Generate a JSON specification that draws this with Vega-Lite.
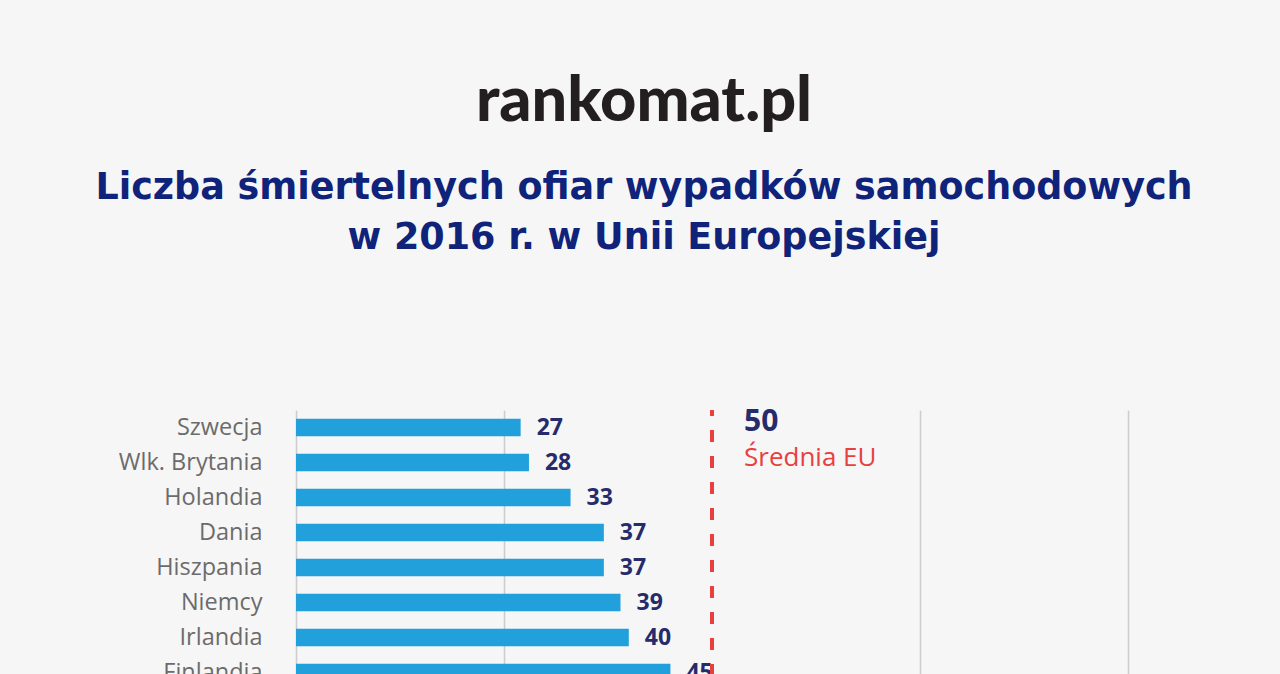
{
  "$schema": "https://vega.github.io/schema/vega-lite/v6.json",
  "autosize": {"type": "none"},
  "width": 832,
  "height": 280,
  "padding": {"left": 296, "top": 410, "right": 152, "bottom": 0},
  "background": "#f6f6f6",
  "config": {"view": {"stroke": null}},
  "title": {
    "text": "rankomat.pl",
    "subtitle": ["Liczba śmiertelnych ofiar wypadków samochodowych", "w 2016 r. w Unii Europejskiej"],
    "anchor": "middle",
    "frame": "group",
    "dx": -68,
    "offset": 150,
    "font": "Lato",
    "fontSize": 63,
    "fontWeight": 900,
    "color": "#231f20",
    "subtitleFont": "DejaVu Sans",
    "subtitleFontSize": 36.5,
    "subtitleFontWeight": "bold",
    "subtitleColor": "#0f237a",
    "subtitleLineHeight": 50,
    "subtitlePadding": 36
  },
  "datasets": {
    "kraje": [
      {"kraj": "Szwecja", "wartosc": 27},
      {"kraj": "Wlk. Brytania", "wartosc": 28},
      {"kraj": "Holandia", "wartosc": 33},
      {"kraj": "Dania", "wartosc": 37},
      {"kraj": "Hiszpania", "wartosc": 37},
      {"kraj": "Niemcy", "wartosc": 39},
      {"kraj": "Irlandia", "wartosc": 40},
      {"kraj": "Finlandia", "wartosc": 45}
    ],
    "srednia": [
      {"kraj": "Szwecja", "opis": "50", "wartosc": 50}
    ],
    "srednia_opis": [
      {"kraj": "Wlk. Brytania", "opis": "Średnia EU", "wartosc": 50}
    ]
  },
  "layer": [
    {
      "data": {"name": "kraje"},
      "mark": {"type": "bar", "color": "#21a0db"},
      "encoding": {
        "y": {
          "field": "kraj",
          "type": "nominal",
          "sort": null,
          "title": null,
          "scale": {"paddingInner": 0.5, "paddingOuter": 0.25},
          "axis": {
            "domain": false,
            "ticks": false,
            "labelPadding": 34,
            "labelFont": "Open Sans",
            "labelFontSize": 23.5,
            "labelColor": "#6b6b6b"
          }
        },
        "x": {
          "field": "wartosc",
          "type": "quantitative",
          "scale": {"domain": [0, 100], "nice": false},
          "title": null,
          "axis": {
            "orient": "top",
            "values": [0, 25, 75, 100],
            "labels": false,
            "ticks": false,
            "domain": false,
            "grid": true,
            "gridColor": "#cccccc",
            "gridWidth": 1.5
          }
        }
      }
    },
    {
      "data": {"name": "kraje"},
      "mark": {"type": "text", "align": "left", "baseline": "middle", "dx": 16, "font": "Open Sans", "fontSize": 23, "fontWeight": "bold", "color": "#262b6b"},
      "encoding": {
        "y": {"field": "kraj", "type": "nominal", "sort": null},
        "x": {"field": "wartosc", "type": "quantitative"},
        "text": {"field": "wartosc", "type": "quantitative"}
      }
    },
    {
      "data": {"name": "srednia"},
      "mark": {"type": "rule", "color": "#e8403f", "strokeWidth": 4, "strokeDash": [12, 14], "strokeDashOffset": 6},
      "encoding": {"x": {"field": "wartosc", "type": "quantitative"}}
    },
    {
      "data": {"name": "srednia"},
      "mark": {"type": "text", "align": "left", "baseline": "middle", "dx": 32, "dy": -6, "font": "Open Sans", "fontSize": 30, "fontWeight": "bold", "color": "#262b6b"},
      "encoding": {
        "x": {"field": "wartosc", "type": "quantitative"},
        "y": {"field": "kraj", "type": "nominal", "sort": null},
        "text": {"field": "opis"}
      }
    },
    {
      "data": {"name": "srednia_opis"},
      "mark": {"type": "text", "align": "left", "baseline": "middle", "dx": 32, "dy": -5, "font": "Open Sans", "fontSize": 26, "color": "#e8403f"},
      "encoding": {
        "x": {"field": "wartosc", "type": "quantitative"},
        "y": {"field": "kraj", "type": "nominal", "sort": null},
        "text": {"field": "opis"}
      }
    }
  ]
}
